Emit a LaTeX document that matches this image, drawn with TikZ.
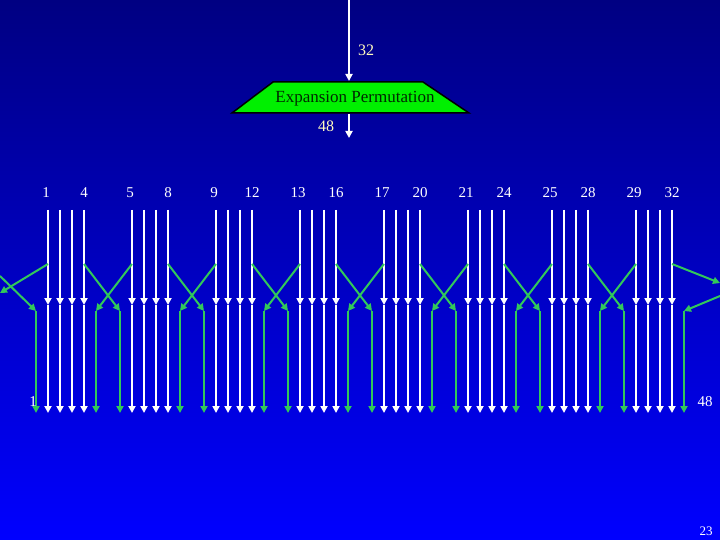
\documentclass[tikz,border=0pt]{standalone}
\usepackage{fontspec}
\setmainfont{Liberation Serif}
\usetikzlibrary{arrows.meta}
\definecolor{gr}{RGB}{50,200,90}
\definecolor{lab}{RGB}{255,250,190}
\definecolor{bgtop}{RGB}{0,0,130}
\definecolor{bgbot}{RGB}{0,0,255}
\definecolor{tzf}{RGB}{0,240,0}
\definecolor{tzt}{RGB}{0,40,0}
\begin{document}
\begin{tikzpicture}[x=1pt,y=-1pt,
  wire/.style={white,line width=1.8pt,-{Triangle[width=7pt,length=7pt]}},
  gw/.style={gr,line width=2pt,-{Triangle[width=7pt,length=7pt]}},
  lbl/.style={white,font=\fontsize{15}{15}\selectfont},
  ylbl/.style={lab,font=\fontsize{16}{16}\selectfont}]
\shade[top color=bgtop,bottom color=bgbot] (0,0) rectangle (720,540);
\useasboundingbox (0,0) rectangle (720,540);
\fill[tzf,draw=black,line width=1.5pt] (273,82) -- (423,82) -- (469,113) -- (232,113) -- cycle;
\node[font=\fontsize{17}{17}\selectfont,text=tzt] (tt) at (355,99) {Expansion Permutation};
\coordinate (in0) at (349,0); \coordinate (in1) at (349,81);
\coordinate (out0) at (349,114); \coordinate (out1) at (349,138);
\draw[wire] (in0) -- (in1);
\draw[wire] (out0) -- (out1);
\node[ylbl] (l32) at (366,50) {32};
\node[ylbl] (l48) at (326,126) {48};
\foreach \k in {0,...,7}{
  \foreach \j in {0,...,3}{
    \pgfmathsetmacro{\xx}{48+84*\k+12*\j}
    \coordinate (a\k\j) at (\xx,210); \coordinate (b\k\j) at (\xx,305); \coordinate (c\k\j) at (\xx,413);
    \draw[wire] (a\k\j) -- (b\k\j);
    \draw[wire] (b\k\j) -- (c\k\j);
  }
  \pgfmathsetmacro{\xl}{36+84*\k}\pgfmathsetmacro{\xr}{96+84*\k}
  \coordinate (gl\k) at (\xl,311); \coordinate (gle\k) at (\xl,413);
  \coordinate (gr\k) at (\xr,311); \coordinate (gre\k) at (\xr,413);
  \draw[gw] (gl\k) -- (gle\k);
  \draw[gw] (gr\k) -- (gre\k);
}
\foreach \k in {0,...,6}{
  \pgfmathtruncatemacro{\n}{\k+1}
  \draw[gw] (48+84*\k+36,264) -- (gl\n);
  \draw[gw] (48+84*\n,264) -- (gr\k);
}
\coordinate (le0) at (0,276); \coordinate (le1) at (0,293);
\coordinate (re0) at (720,283); \coordinate (re1) at (720,296);
\draw[gw] (48,264) -- (le1);
\draw[gw] (le0) -- (gl0);
\draw[gw] (672,264) -- (re0);
\draw[gw] (re1) -- (gr7);
\foreach \k in {0,...,7}{
  \pgfmathtruncatemacro{\p}{4*\k+1}\pgfmathtruncatemacro{\q}{4*\k+4}
  \node[lbl] (t\k a) at (46+84*\k,193) {\p};
  \node[lbl] (t\k b) at (84+84*\k,193) {\q};
}
\node[lbl] (b1) at (33,402) {1};
\node[lbl] (b48) at (705,402) {48};
\node[lbl,font=\fontsize{13}{13}\selectfont] (pg) at (706,531) {23};
\end{tikzpicture}
\end{document}
